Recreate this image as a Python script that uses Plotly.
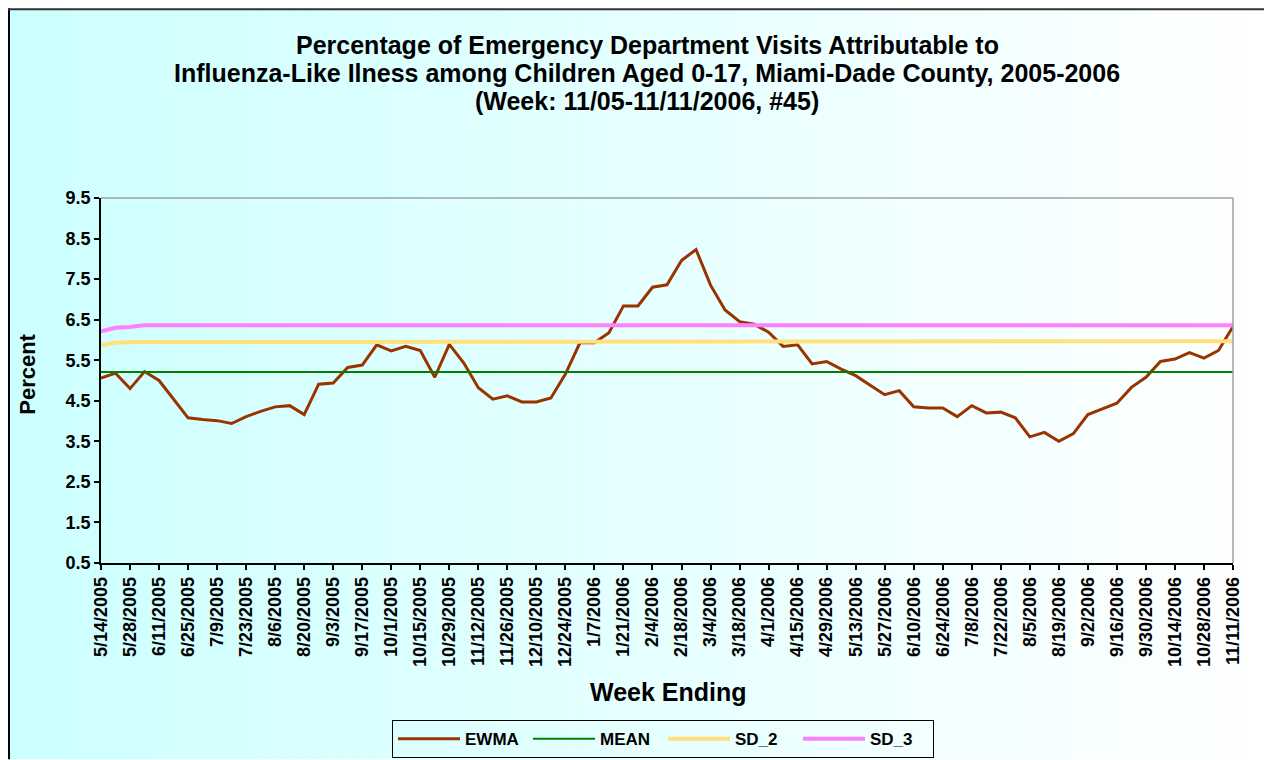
import datetime as dt
import plotly.graph_objects as go

# ---- data ----
start = dt.date(2005, 5, 14)
weeks = [start + dt.timedelta(days=7 * i) for i in range(79)]
week_labels = [f"{d.month}/{d.day}/{d.year}" for d in weeks]

ewma = [5.06, 5.18, 4.80, 5.22, 5.00, 4.54, 4.08, 4.04, 4.01, 3.94,
        4.11, 4.24, 4.35, 4.38, 4.16, 4.91, 4.94, 5.32, 5.38, 5.88,
        5.73, 5.84, 5.74, 5.08, 5.89, 5.43, 4.82, 4.54, 4.62, 4.47,
        4.47, 4.57, 5.16, 5.93, 5.93, 6.18, 6.84, 6.84, 7.30, 7.36,
        7.96, 8.23, 7.35, 6.74, 6.45, 6.39, 6.19, 5.84, 5.88, 5.41,
        5.47, 5.28, 5.12, 4.88, 4.65, 4.75, 4.35, 4.32, 4.32, 4.11,
        4.38, 4.20, 4.22, 4.08, 3.61, 3.72, 3.50, 3.69, 4.16, 4.30,
        4.44, 4.83, 5.08, 5.47, 5.53, 5.69, 5.55, 5.74, 6.33]
mean = [5.21] * 79
sd_2 = [5.86, 5.93, 5.95, 5.95, 5.95, 5.97] + [5.97] * 73
sd_3 = [6.21, 6.30, 6.32, 6.36] + [6.36] * 75

y_ticks = [0.5, 1.5, 2.5, 3.5, 4.5, 5.5, 6.5, 7.5, 8.5, 9.5]
x_tick_labels = week_labels[::2]

# ---- geometry (screen pixels; page body has an 8px margin) ----
OFF = 8
W, H = 1264, 752
SL, SR, ST, SB = 101, 1233, 198, 563.5  # plot area on screen
PL, PR, PT, PB = SL - OFF, SR - OFF, ST - OFF, SB - OFF


def px(x):
    return (x - OFF - PL) / (PR - PL)


def py(y):
    return (PB - (y - OFF)) / (PB - PT)


fig = go.Figure()
fig.add_trace(go.Scatter(x=week_labels, y=ewma, name="EWMA", mode="lines",
                         line=dict(color="#993300", width=3)))
fig.add_trace(go.Scatter(x=week_labels, y=mean, name="MEAN", mode="lines",
                         line=dict(color="#008000", width=2)))
fig.add_trace(go.Scatter(x=week_labels, y=sd_2, name="SD_2", mode="lines",
                         line=dict(color="#FFE07A", width=4)))
fig.add_trace(go.Scatter(x=week_labels, y=sd_3, name="SD_3", mode="lines",
                         line=dict(color="#FF80FF", width=4)))

# gradient background
shapes = []
n = 80
x0s, x1s = OFF, OFF + W
for i in range(n):
    a = x0s + (x1s - x0s) * i / n
    b = x0s + (x1s - x0s) * (i + 1) / n + 1
    t = (i + 0.5) / n
    r = int(round(204 + 51 * t))
    shapes.append(dict(type="rect", xref="paper", yref="paper", layer="below",
                       x0=px(a), x1=px(b), y0=py(OFF), y1=py(OFF + H),
                       fillcolor=f"rgb({r},255,255)", line=dict(width=0)))
# chart frame (left and top)
shapes.append(dict(type="line", xref="paper", yref="paper", x0=px(OFF + 1), x1=px(OFF + 1),
                   y0=py(OFF), y1=py(OFF + H), line=dict(color="black", width=2)))
shapes.append(dict(type="line", xref="paper", yref="paper", x0=px(OFF), x1=px(OFF + W),
                   y0=py(OFF + 1), y1=py(OFF + 1), line=dict(color="#333333", width=2)))
# plot area top/right border
shapes.append(dict(type="line", xref="paper", yref="paper", x0=0, x1=1,
                   y0=1, y1=1, line=dict(color="#A0A0A0", width=1.5)))
shapes.append(dict(type="line", xref="paper", yref="paper", x0=1, x1=1,
                   y0=0, y1=1, line=dict(color="#A0A0A0", width=1.5)))

bold = dict(family="Liberation Sans, Arial, sans-serif", color="black", weight="bold")

annotations = []
title_lines = [
    "Percentage of Emergency Department Visits Attributable to",
    "Influenza-Like Ilness among Children Aged 0-17, Miami-Dade County, 2005-2006",
    "(Week: 11/05-11/11/2006, #45)",
]
for i, line in enumerate(title_lines):
    annotations.append(dict(text=line, xref="paper", yref="paper", x=px(647), y=py(45 + 28 * i),
                            xanchor="center", yanchor="middle", showarrow=False,
                            font=dict(size=25, **bold)))
annotations.append(dict(text="Percent", xref="paper", yref="paper", x=px(28), y=py(375),
                        xanchor="center", yanchor="middle", showarrow=False, textangle=-90,
                        font=dict(size=22, **bold)))
annotations.append(dict(text="Week Ending", xref="paper", yref="paper", x=px(668), y=py(693),
                        xanchor="center", yanchor="middle", showarrow=False,
                        font=dict(size=25, **bold)))

fig.update_layout(
    width=W, height=H,
    margin=dict(l=PL, r=W - PR, t=PT, b=H - PB, pad=0, autoexpand=False),
    paper_bgcolor="white",
    plot_bgcolor="rgba(0,0,0,0)",
    shapes=shapes,
    annotations=annotations,
    showlegend=True,
    legend=dict(orientation="h", x=px(663), y=py(740), xanchor="center", yanchor="middle",
                bordercolor="black", borderwidth=1, bgcolor="rgba(0,0,0,0)",
                itemwidth=62, entrywidth=58, entrywidthmode="pixels",
                font=dict(size=17, **bold), tracegroupgap=0),
    xaxis=dict(type="category", range=[0, 78], tickmode="array", automargin=False,
               tickvals=x_tick_labels, ticktext=x_tick_labels, tickangle=-90,
               tickfont=dict(size=18, **bold), showgrid=False, zeroline=False,
               showline=True, linecolor="black", linewidth=1.5,
               ticks="outside", ticklen=5, tickcolor="black", tickwidth=1.5),
    yaxis=dict(range=[0.5, 9.5], tickmode="array", tickvals=y_ticks, automargin=False,
               ticktext=[f"{v:.1f}" for v in y_ticks],
               tickfont=dict(size=18, **bold), showgrid=False, zeroline=False,
               showline=True, linecolor="black", linewidth=1.5,
               ticks="outside", ticklen=5, tickcolor="black", tickwidth=1.5),
)

fig.write_html("out.html")
